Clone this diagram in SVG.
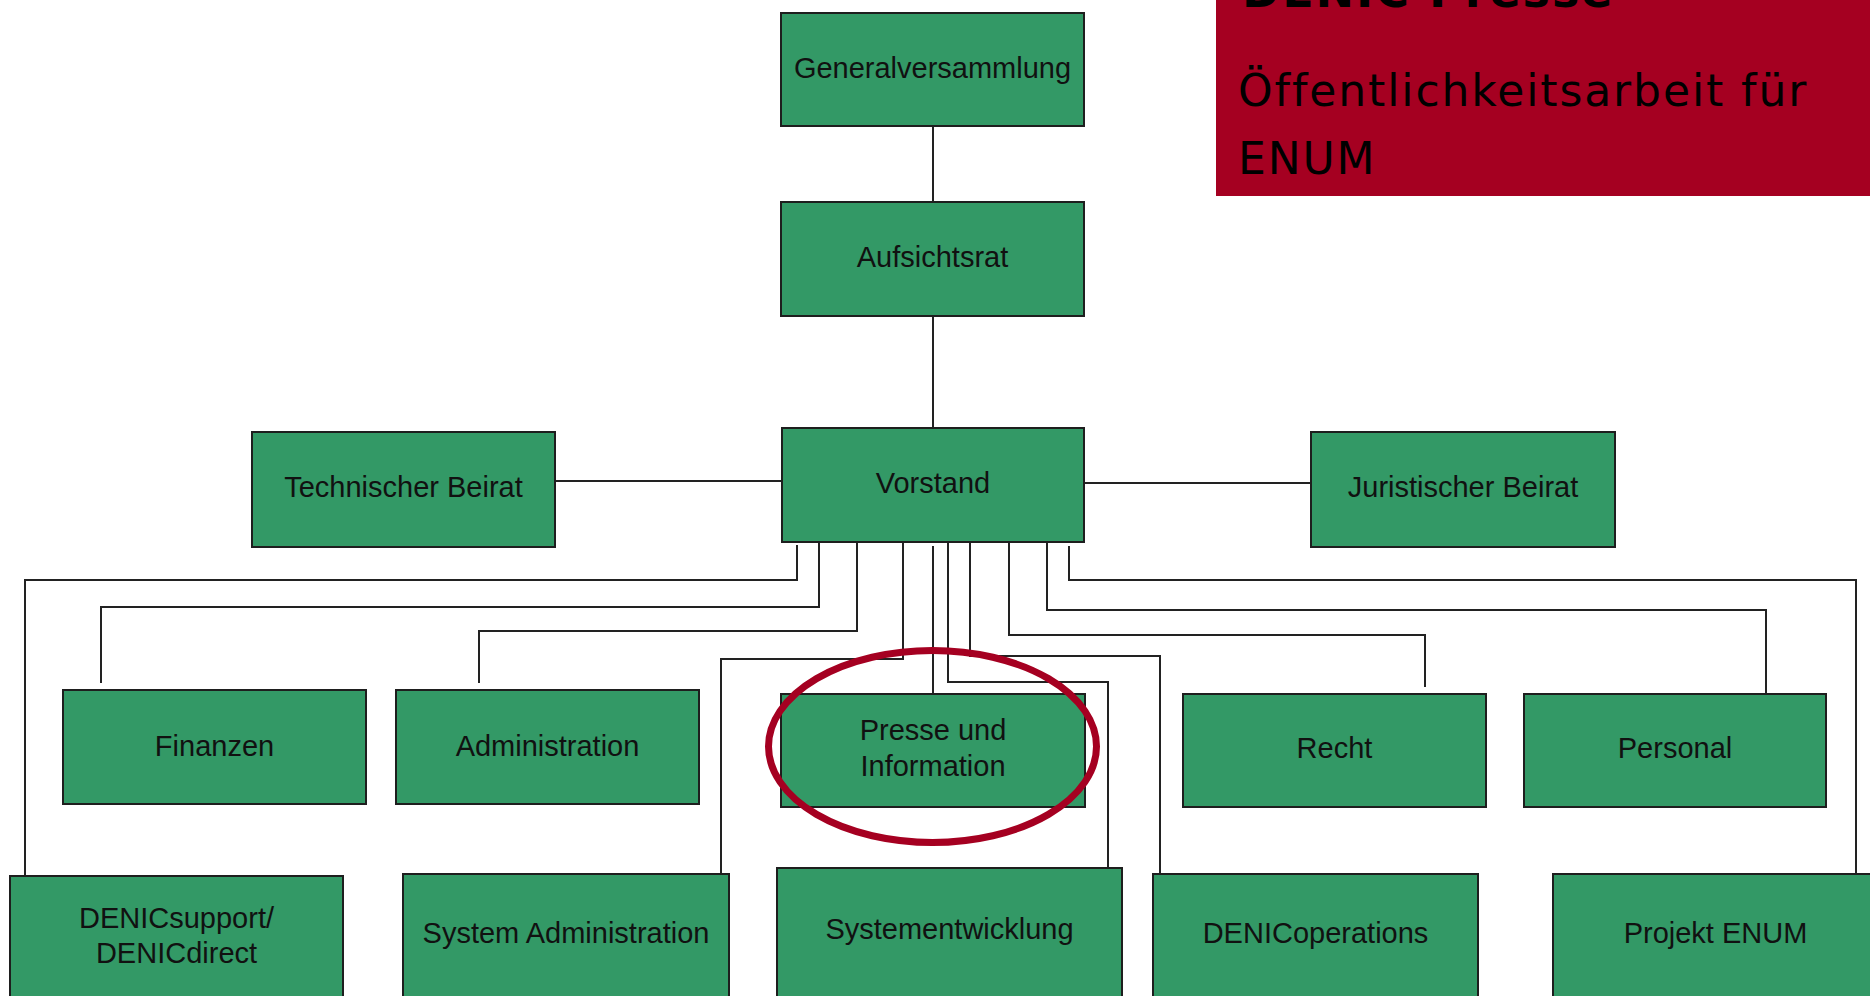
<svg xmlns="http://www.w3.org/2000/svg" width="1870" height="996" viewBox="0 0 1870 996">
<style>
.box{fill:#339966;stroke:#1e1e1e;stroke-width:2}
.lbl{font-family:"Liberation Sans",Arial,sans-serif;font-size:29px;fill:#111;text-anchor:middle}
.conn{fill:none;stroke:#222;stroke-width:2}
.callout{font-family:"DejaVu Sans","Verdana",sans-serif;font-size:44px;fill:#000;letter-spacing:1.9px}
</style>
<rect width="1870" height="996" fill="#ffffff"/>

<g id="connectors">
  <line class="conn" x1="933" y1="126" x2="933" y2="202"/>
  <line class="conn" x1="933" y1="316" x2="933" y2="428"/>
  <line class="conn" x1="555" y1="481" x2="782" y2="481"/>
  <line class="conn" x1="1084" y1="483" x2="1311" y2="483"/>
  <polyline class="conn" points="797,545 797,580 25,580 25,876"/>
  <polyline class="conn" points="819,542 819,607 101,607 101,683"/>
  <polyline class="conn" points="857,542 857,631 479,631 479,683"/>
  <polyline class="conn" points="903,542 903,659 721,659 721,874"/>
  <line class="conn" x1="933" y1="546" x2="933" y2="694"/>
  <polyline class="conn" points="948,542 948,682 1108,682 1108,868"/>
  <polyline class="conn" points="970,542 970,656 1160,656 1160,874"/>
  <polyline class="conn" points="1009,542 1009,635 1425,635 1425,687"/>
  <polyline class="conn" points="1047,542 1047,610 1766,610 1766,694"/>
  <polyline class="conn" points="1069,546 1069,580 1856,580 1856,874"/>
</g>

<g id="generalversammlung">
  <rect class="box" x="781" y="13" width="303" height="113"/>
  <text class="lbl" x="932.5" y="78">Generalversammlung</text>
</g>
<g id="aufsichtsrat">
  <rect class="box" x="781" y="202" width="303" height="114"/>
  <text class="lbl" x="932.5" y="267">Aufsichtsrat</text>
</g>
<g id="vorstand">
  <rect class="box" x="782" y="428" width="302" height="114"/>
  <text class="lbl" x="933" y="493">Vorstand</text>
</g>
<g id="technischer-beirat">
  <rect class="box" x="252" y="432" width="303" height="115"/>
  <text class="lbl" x="403.5" y="497">Technischer Beirat</text>
</g>
<g id="juristischer-beirat">
  <rect class="box" x="1311" y="432" width="304" height="115"/>
  <text class="lbl" x="1463" y="497">Juristischer Beirat</text>
</g>
<g id="finanzen">
  <rect class="box" x="63" y="690" width="303" height="114"/>
  <text class="lbl" x="214.5" y="756">Finanzen</text>
</g>
<g id="administration">
  <rect class="box" x="396" y="690" width="303" height="114"/>
  <text class="lbl" x="547.5" y="756">Administration</text>
</g>
<g id="presse-und-information">
  <rect class="box" x="781" y="694" width="304" height="113"/>
  <text class="lbl" x="933" y="740">Presse und</text>
  <text class="lbl" x="933" y="776">Information</text>
</g>
<g id="recht">
  <rect class="box" x="1183" y="694" width="303" height="113"/>
  <text class="lbl" x="1334.5" y="758">Recht</text>
</g>
<g id="personal">
  <rect class="box" x="1524" y="694" width="302" height="113"/>
  <text class="lbl" x="1675" y="758">Personal</text>
</g>
<g id="denicsupport">
  <rect class="box" x="10" y="876" width="333" height="135"/>
  <text class="lbl" x="176.5" y="928">DENICsupport/</text>
  <text class="lbl" x="176.5" y="963">DENICdirect</text>
</g>
<g id="system-administration">
  <rect class="box" x="403" y="874" width="326" height="135"/>
  <text class="lbl" x="566" y="943">System Administration</text>
</g>
<g id="systementwicklung">
  <rect class="box" x="777" y="868" width="345" height="140"/>
  <text class="lbl" x="949.5" y="939">Systementwicklung</text>
</g>
<g id="denicoperations">
  <rect class="box" x="1153" y="874" width="325" height="135"/>
  <text class="lbl" x="1315.5" y="943">DENICoperations</text>
</g>
<g id="projekt-enum">
  <rect class="box" x="1553" y="874" width="325" height="135"/>
  <text class="lbl" x="1715.5" y="943">Projekt ENUM</text>
</g>

<g id="highlight">
  <ellipse cx="932.5" cy="746.5" rx="164" ry="96" fill="none" stroke="#a50021" stroke-width="7"/>
</g>

<g id="callout">
  <rect x="1216" y="0" width="654" height="196" fill="#a50021"/>
  <text class="callout" x="1242" y="7" font-weight="bold" style="font-size:46px;letter-spacing:2px">DENIC Presse</text>
  <text class="callout" x="1238" y="106">Öffentlichkeitsarbeit für</text>
  <text class="callout" x="1238" y="174">ENUM</text>
</g>
</svg>
